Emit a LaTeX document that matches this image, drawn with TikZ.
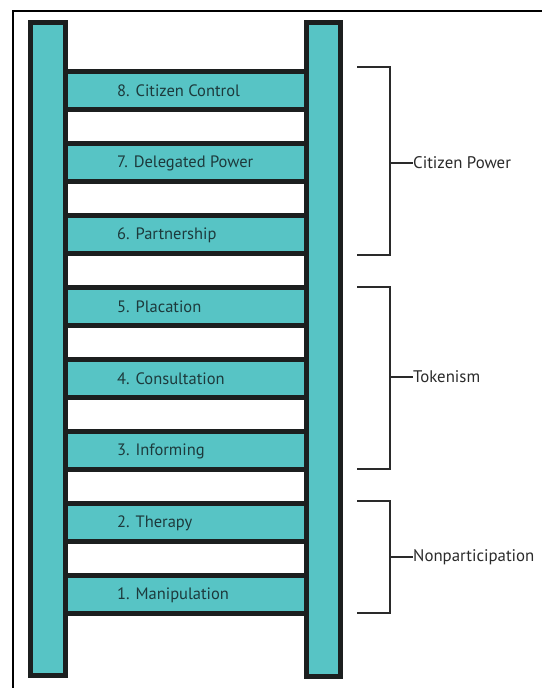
\documentclass[tikz,border=0pt]{standalone}
\usepackage{fontspec}
\setmainfont{PT Sans}
\definecolor{rungteal}{HTML}{57C4C5}
\definecolor{outline}{HTML}{1C1F1F}
\definecolor{labeltext}{HTML}{1D3A3C}
\definecolor{sidetext}{HTML}{2A2A2A}
\begin{document}
\begin{tikzpicture}[x=1pt,y=-1pt,
  rail/.style={fill=rungteal,draw=outline,line width=5pt},
  rung/.style={fill=rungteal,draw=outline,line width=5pt},
  runglabel/.style={anchor=west,inner sep=0pt,text=labeltext,font=\fontsize{16.5}{19}\selectfont},
  bracket/.style={draw=sidetext,line width=1.1pt},
  grouplabel/.style={anchor=west,inner sep=0pt,text=sidetext,font=\fontsize{16.8}{19}\selectfont}]
  \useasboundingbox (0,0) rectangle (541,688);
  % outer frame, running off the right and bottom edges
  \draw[line width=2.4pt,black] (13,700) -- (13,11) -- (560,11);
  % rungs
  \foreach \k/\txt in {8/{8. Citizen Control},7/{7. Delegated Power},6/{6. Partnership},
      5/{5. Placation},4/{4. Consultation},3/{3. Informing},2/{2. Therapy},1/{1. Manipulation}}{
    \pgfmathsetmacro{\top}{69+72*(8-\k)}
    \draw[rung] (60,\top+2.5) rectangle (312,\top+40.5);
    \node[runglabel] (r\k) at (117,\top+22) {\txt};
  }
  % rails
  \draw[rail] (30.5,22.5) rectangle (65.5,675.5);
  \draw[rail] (306.5,22.5) rectangle (340.5,676.5);
  % group brackets
  \draw[bracket] (357,67) -- (390,67) -- (390,255) -- (357,255);
  \draw[bracket] (357,287) -- (390,287) -- (390,469) -- (357,469);
  \draw[bracket] (357,501) -- (390,501) -- (390,613) -- (357,613);
  \node[grouplabel] (g1) at (413,163) {Citizen Power};
  \node[grouplabel] (g2) at (413,377) {Tokenism};
  \node[grouplabel] (g3) at (413,557) {Nonparticipation};
  \draw[bracket] (390,163) -- (g1.west);
  \draw[bracket] (390,377) -- (g2.west);
  \draw[bracket] (390,557) -- (g3.west);
\end{tikzpicture}
\end{document}
